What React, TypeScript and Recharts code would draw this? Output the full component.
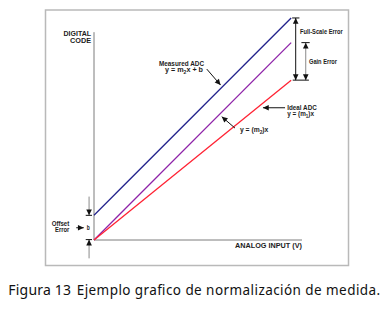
import React from "react";
import { LineChart, Line, XAxis, YAxis, ReferenceLine } from "recharts";

// analog input (x) and digital code (y) for the three transfer lines
const inputX = [0, 10];
const measuredAdc = [1.25, 11.25]; // y = m2 x + b
const gainOnly = [0, 10]; // y = (m2) x
const idealAdc = [0, 8.1]; // y = (m1) x

const data = inputX.map((x, i) => ({
  x,
  measured: measuredAdc[i],
  gain: gainOnly[i],
  ideal: idealAdc[i],
}));

const W = 389;
const H = 309;
const labelFont = "'Liberation Sans Narrow','Arial Narrow','Liberation Sans',Arial,sans-serif";
const captionFont = "'Noto Sans','Open Sans',sans-serif";

type ArrowOpts = { head?: boolean; tail?: boolean; color?: string; headColor?: string; width?: number };

// custom ReferenceLine shape: line with filled arrow heads
const arrow = (o: ArrowOpts) => (p: any) => {
  const { x1, y1, x2, y2 } = p;
  const dx = x2 - x1;
  const dy = y2 - y1;
  const len = Math.hypot(dx, dy) || 1;
  const ux = dx / len;
  const uy = dy / len;
  const L = 5.8;
  const hw = 2.8;
  const headAt = (tx: number, ty: number, dx: number, dy: number) => {
    const bx = tx - dx * L;
    const by = ty - dy * L;
    return `${tx},${ty} ${bx - dy * hw},${by + dx * hw} ${bx + dy * hw},${by - dx * hw}`;
  };
  const hc = o.headColor || "#111";
  return (
    <g>
      <line x1={x1} y1={y1} x2={x2} y2={y2} stroke={o.color || "#111"} strokeWidth={o.width || 1} />
      {o.head && <polygon points={headAt(x2, y2, ux, uy)} fill={hc} />}
      {o.tail && <polygon points={headAt(x1, y1, -ux, -uy)} fill={hc} />}
    </g>
  );
};

const bar = (x1: number, x2: number, y: number, key: string) => (
  <ReferenceLine key={key} segment={[{ x: x1, y }, { x: x2, y }]} stroke="#111" strokeWidth={1} ifOverflow="visible" />
);

function T({ x, y, w, anchor, children, size = 6.8 }: any) {
  return (
    <text x={x} y={y} textAnchor={anchor || "start"} textLength={w} lengthAdjust="spacingAndGlyphs"
      style={{ fontFamily: labelFont, fontWeight: 700, fontSize: size, fill: "#1c1c1c" }}>
      {children}
    </text>
  );
}

const sub = (s: string) => (
  <tspan dy={1.5} fontSize={4.8}>{s}</tspan>
);

export default function App() {
  return (
    <div style={{ position: "absolute", left: 0, top: 0, width: W, height: H, background: "#fff" }}>
      <LineChart width={W} height={H} data={data} margin={{ top: 15, right: 87, bottom: 69, left: 94 }}>
        <XAxis dataKey="x" type="number" domain={[0, 10.55]} hide />
        <YAxis type="number" domain={[0, 11.4]} hide />

        {/* axes */}
        <ReferenceLine segment={[{ x: 0, y: 0 }, { x: 0, y: 10.53 }]} stroke="#7d7d7d" ifOverflow="visible" />
        <ReferenceLine segment={[{ x: 0, y: 0 }, { x: 10.55, y: 0 }]} stroke="#7d7d7d" ifOverflow="visible" />

        <Line dataKey="measured" type="linear" stroke="#22228c" strokeWidth={1.3} dot={false} isAnimationActive={false} />
        <Line dataKey="gain" type="linear" stroke="#8e22a8" strokeWidth={1.3} dot={false} isAnimationActive={false} />
        <Line dataKey="ideal" type="linear" stroke="#ff2233" strokeWidth={1.3} dot={false} isAnimationActive={false} />

        {/* full-scale and gain error */}
        <ReferenceLine segment={[{ x: 10.23, y: 8.1 }, { x: 10.23, y: 11.25 }]} ifOverflow="visible" shape={arrow({ head: true, tail: true })} />
        <ReferenceLine segment={[{ x: 10.74, y: 8.1 }, { x: 10.74, y: 10 }]} ifOverflow="visible" shape={arrow({ head: true, tail: true, color: "#8a8a8a" })} />
        {bar(10.05, 10.42, 11.25, "b1")}
        {bar(10.52, 10.94, 10, "b2")}
        {bar(10.08, 10.9, 8.1, "b3")}

        {/* callouts */}
        <ReferenceLine segment={[{ x: 5.72, y: 8.66 }, { x: 6.42, y: 7.85 }]} ifOverflow="visible" shape={arrow({ head: true })} />
        <ReferenceLine segment={[{ x: 9.69, y: 6.7 }, { x: 8.57, y: 6.7 }]} ifOverflow="visible" shape={arrow({ head: true })} />
        <ReferenceLine segment={[{ x: 7.15, y: 5.67 }, { x: 6.48, y: 6.25 }]} ifOverflow="visible" shape={arrow({ head: true })} />

        {/* offset error */}
        <ReferenceLine segment={[{ x: -0.25, y: 2.2 }, { x: -0.25, y: 1.25 }]} ifOverflow="visible" shape={arrow({ head: true, color: "#8a8a8a" })} />
        <ReferenceLine segment={[{ x: -0.25, y: -0.93 }, { x: -0.25, y: 0.02 }]} ifOverflow="visible" shape={arrow({ head: true, color: "#8a8a8a" })} />
        {bar(-0.42, -0.1, 1.25, "b4")}
        {bar(-0.42, -0.1, 0.02, "b5")}
        <ReferenceLine segment={[{ x: -0.9, y: 0.62 }, { x: -0.52, y: 0.62 }]} ifOverflow="visible" shape={arrow({ head: true })} />
      </LineChart>

      <svg width={W} height={H} style={{ position: "absolute", left: 0, top: 0, pointerEvents: "none" }}>
        <rect x={45.5} y={10} width={303} height={255.5} fill="none" stroke="#b9b9b9" strokeWidth={1.5} />

        <T x={91} y={36} w={27.5} anchor="end">DIGITAL</T>
        <T x={91} y={42.5} w={21} anchor="end">CODE</T>

        <T x={159} y={66} w={45}>Measured ADC</T>
        <T x={165} y={72.3} w={38}>y = m{sub("2")}<tspan dy={-1.5}>x + b</tspan></T>

        <T x={300} y={34} w={42.7}>Full-Scale Error</T>
        <T x={309} y={63.5} w={28}>Gain Error</T>

        <T x={287.3} y={109.5} w={29.4}>Ideal ADC</T>
        <T x={287.3} y={116} w={26.7}>y = (m{sub("1")}<tspan dy={-1.5}>)x</tspan></T>

        <T x={240} y={132.3} w={28.3}>y = (m{sub("2")}<tspan dy={-1.5}>)x</tspan></T>

        <T x={69.3} y={225.6} w={17.6} anchor="end">Offset</T>
        <T x={69.3} y={232} w={14.3} anchor="end">Error</T>
        <T x={88.3} y={230} w={3} anchor="middle">b</T>

        <T x={235} y={248.3} w={67}>ANALOG INPUT (V)</T>

        <text x={8.3} y={295} textLength={62.7} lengthAdjust="spacing"
          style={{ fontFamily: captionFont, fontSize: 14, fill: "#111" }}>
          Figura 13
        </text>
        <text x={76.7} y={295} textLength={303.5} lengthAdjust="spacing"
          style={{ fontFamily: captionFont, fontSize: 13.5, fill: "#111" }}>
          Ejemplo grafico de normalización de medida.
        </text>
      </svg>
    </div>
  );
}
